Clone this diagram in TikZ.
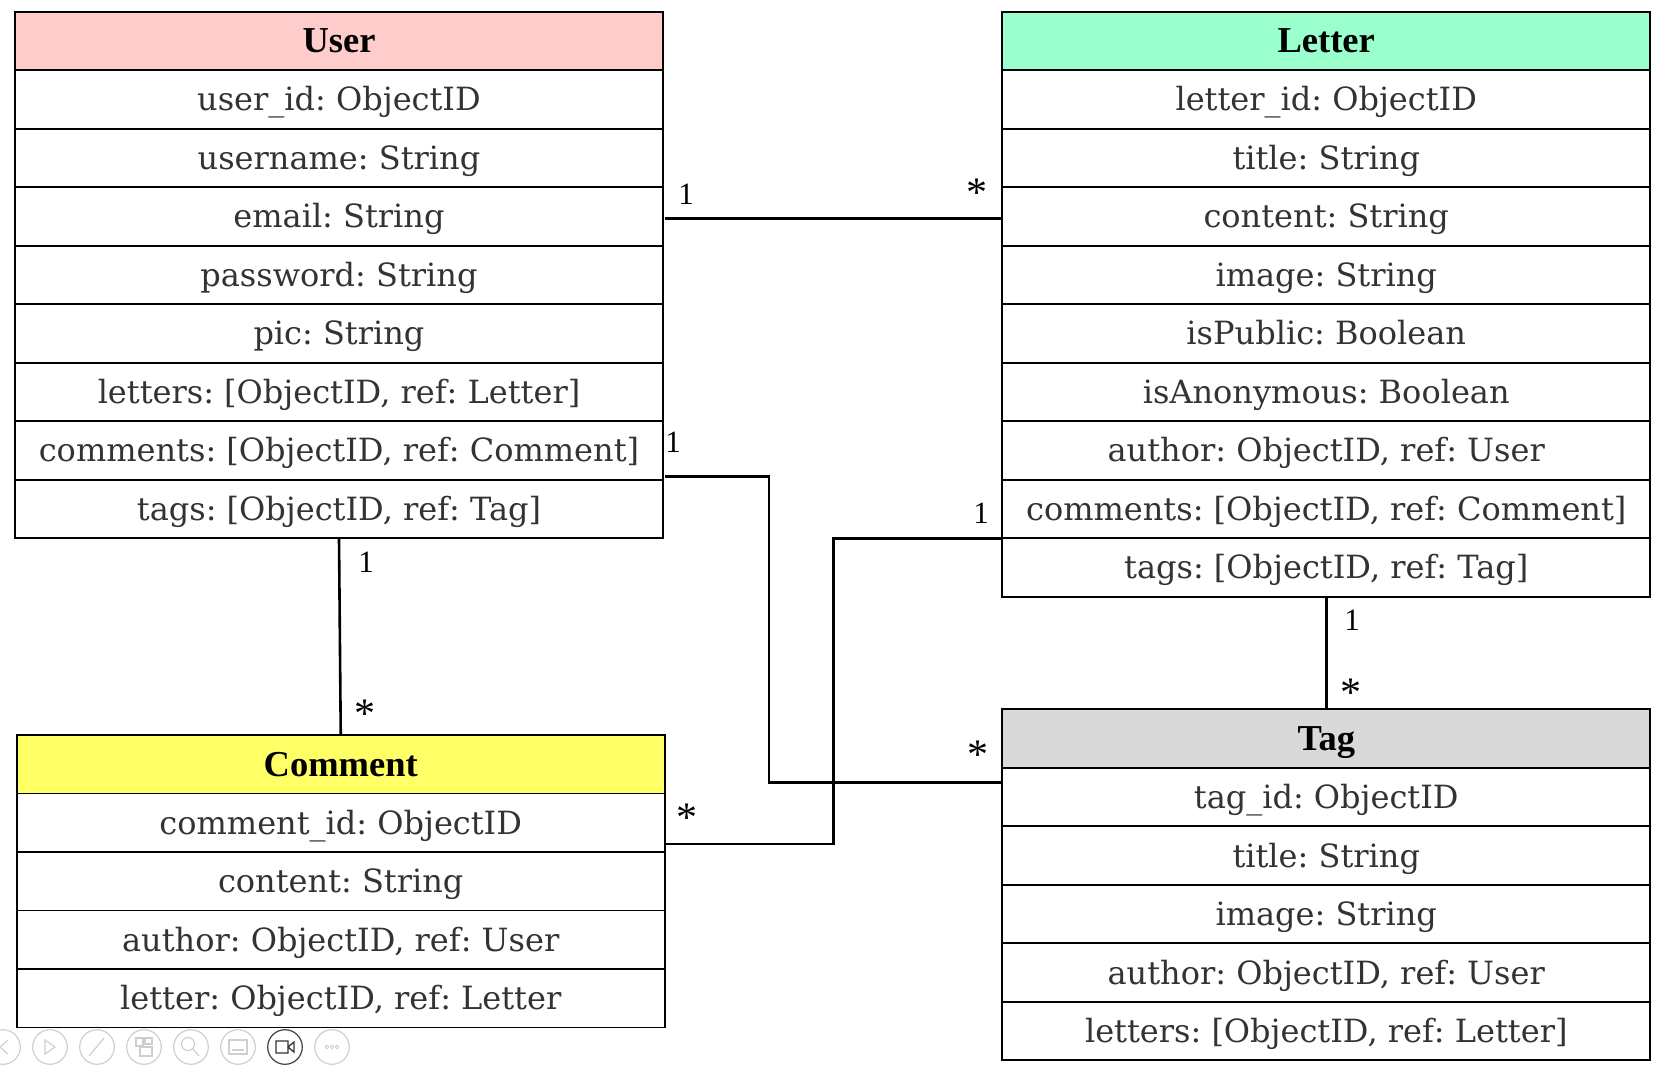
\documentclass[tikz,border=0pt]{standalone}
\usepackage{fontspec}
\setmainfont{DejaVu Serif}
\newfontfamily\hdfont{Liberation Serif}
\usetikzlibrary{positioning,calc}
\definecolor{usercol}{HTML}{FFCCCC}
\definecolor{lettercol}{HTML}{99FFCC}
\definecolor{commentcol}{HTML}{FFFF66}
\definecolor{tagcol}{HTML}{D9D9D9}
\definecolor{txt}{HTML}{333333}
\definecolor{icon}{HTML}{CFCFCF}
\newcommand{\us}{\symbol{95}}
\frenchspacing
\begin{document}
\begin{tikzpicture}[x=1pt,y=-1pt,
  row/.style={draw=black, line width=1.8pt, minimum width=648pt, minimum height=58.5pt,
    inner sep=0pt, outer sep=0pt, anchor=north, fill=white, text=txt,
    font=\fontsize{32}{36}\selectfont, text height=23pt, text depth=0pt},
  head/.style={row, text=black, font=\hdfont\bfseries\fontsize{36.5}{40}\selectfont,
    text height=24pt},
  conn/.style={draw=black, line width=2.6pt},
  mult/.style={font=\hdfont\fontsize{31}{34}\selectfont, inner sep=0pt, text=black},
  many/.style={mult, font=\hdfont\fontsize{42}{44}\selectfont},
  ico/.style={draw=icon, line width=1.2pt}]
\useasboundingbox (0,0) rectangle (1665,1066);

% User
\node[head, fill=usercol] (user) at (339,11.7) {User};
\node[row, below=0pt of user] (user1) {user\us id: ObjectID};
\node[row, below=0pt of user1] (user2) {username: String};
\node[row, below=0pt of user2] (user3) {email: String};
\node[row, below=0pt of user3] (user4) {password: String};
\node[row, below=0pt of user4] (user5) {pic: String};
\node[row, below=0pt of user5] (user6) {letters: [ObjectID, ref: Letter]};
\node[row, below=0pt of user6] (user7) {comments: [ObjectID, ref: Comment]};
\node[row, below=0pt of user7] (user8) {tags: [ObjectID, ref: Tag]};

% Letter
\node[head, fill=lettercol] (letter) at (1326.25,11.7) {Letter};
\node[row, below=0pt of letter] (letter1) {letter\us id: ObjectID};
\node[row, below=0pt of letter1] (letter2) {title: String};
\node[row, below=0pt of letter2] (letter3) {content: String};
\node[row, below=0pt of letter3] (letter4) {image: String};
\node[row, below=0pt of letter4] (letter5) {isPublic: Boolean};
\node[row, below=0pt of letter5] (letter6) {isAnonymous: Boolean};
\node[row, below=0pt of letter6] (letter7) {author: ObjectID, ref: User};
\node[row, below=0pt of letter7] (letter8) {comments: [ObjectID, ref: Comment]};
\node[row, below=0pt of letter8] (letter9) {tags: [ObjectID, ref: Tag]};

% Comment
\node[head, fill=commentcol] (comment) at (340.75,735) {Comment};
\node[row, below=0pt of comment] (comment1) {comment\us id: ObjectID};
\node[row, below=0pt of comment1] (comment2) {content: String};
\node[row, below=0pt of comment2] (comment3) {author: ObjectID, ref: User};
\node[row, below=0pt of comment3] (comment4) {letter: ObjectID, ref: Letter};

% Tag
\node[head, fill=tagcol] (tag) at (1326.25,709.3) {Tag};
\node[row, below=0pt of tag] (tag1) {tag\us id: ObjectID};
\node[row, below=0pt of tag1] (tag2) {title: String};
\node[row, below=0pt of tag2] (tag3) {image: String};
\node[row, below=0pt of tag3] (tag4) {author: ObjectID, ref: User};
\node[row, below=0pt of tag4] (tag5) {letters: [ObjectID, ref: Letter]};

% connectors
\draw[conn] ($(user3.east)+(2,2)$) -- ($(letter3.west)+(0,2)$);
\draw[conn] ($(user7.south east)+(2,-3)$) -- ++(104,0) |- ($(tag.south west)+(0,14.5)$);
\draw[conn] (letter8.south west) -- ++(-168.5,0) |- ($(comment1.south east)+(0,-8)$);
\draw[conn] (user8.south) -- (comment.north);
\draw[conn] (letter9.south) -- (tag.north);

% multiplicities
\node[mult] (m1) at (686,194) {1};
\node[many] (m2) at (977,193) {*};
\node[mult] (m3) at (673,442) {1};
\node[many] (m4) at (978,755) {*};
\node[mult] (m5) at (981,513) {1};
\node[many] (m6) at (687,818) {*};
\node[mult] (m7) at (366,562) {1};
\node[many] (m8) at (365,714) {*};
\node[mult] (m9) at (1352,620) {1};
\node[many] (m10) at (1351,693) {*};

% viewer toolbar
\foreach \cx in {3,50,97,144,191,238,332} \draw[ico] (\cx,1047) circle (17.3);
\draw[draw=black!75, line width=1.2pt] (285,1047) circle (17.3);
\draw[ico] (8,1040) -- (0,1047) -- (8,1054);
\draw[ico] (45,1040) -- (55,1047) -- (45,1054) -- cycle;
\draw[ico] (89,1056) -- (104,1038);
\draw[ico] (136,1038) rectangle (143,1046) (145,1038) rectangle (152,1044) (140,1047) rectangle (152,1056);
\draw[ico] (188,1044) circle (6.5) (193,1049) -- (199,1056);
\draw[ico] (229,1040) rectangle (247,1054) (232,1050) -- (244,1050);
\draw[draw=black!80, line width=1.3pt] (276,1041) rectangle (288,1053) (288,1047) -- (294,1042) -- (294,1052) -- cycle;
\foreach \dx in {-5,0,5} \draw[ico, line width=0.8pt] (332+\dx,1047) circle (1.8);
\end{tikzpicture}
\end{document}
